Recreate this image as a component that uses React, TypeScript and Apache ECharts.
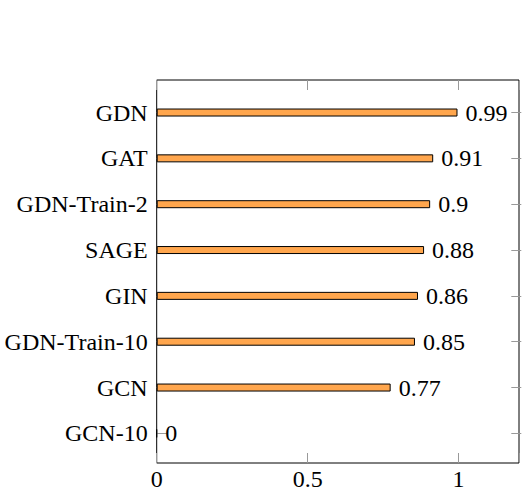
import React, { useEffect, useRef } from "react";
import * as echarts from "echarts";

const categories = ["GCN-10", "GCN", "GDN-Train-10", "GIN", "SAGE", "GDN-Train-2", "GAT", "GDN"];
const values = [0, 0.77, 0.85, 0.86, 0.88, 0.9, 0.91, 0.99];
const xTicks = [0, 0.5, 1];

const FONT = "Liberation Serif";

export default function App() {
  const ref = useRef<HTMLDivElement>(null);
  useEffect(() => {
    if (!ref.current) return;
    const chart = echarts.init(ref.current, undefined, { renderer: "svg" });
    const L = 156.7;
    const W = 364.6;
    chart.setOption({
      animation: false,
      backgroundColor: "#fff",
      grid: [
        { left: L, top: 80, width: W, height: 385, show: true, borderColor: "#000", borderWidth: 1, backgroundColor: "transparent" },
        { left: L, top: 89.6, width: W, height: 366.7 },
      ],
      xAxis: [
        {
          gridIndex: 0, type: "value", min: 0, max: 1.2, interval: 0.5, position: "bottom",
          axisLine: { show: false }, splitLine: { show: false },
          axisTick: { show: true, inside: true, length: 10, lineStyle: { color: "#999" } },
          axisLabel: {
            margin: 4, fontFamily: FONT, fontSize: 24, color: "#000",
            formatter: (v: number) => (xTicks.indexOf(v) >= 0 ? String(v) : ""),
          },
        },
        {
          gridIndex: 0, type: "value", min: 0, max: 1.2, interval: 0.5, position: "top",
          axisLine: { show: false }, splitLine: { show: false },
          axisTick: { show: true, inside: true, length: 10, lineStyle: { color: "#999" } },
          axisLabel: { show: false },
        },
        {
          gridIndex: 1, type: "value", min: 0, max: 1.2, show: false,
        },
      ],
      yAxis: [
        { gridIndex: 0, type: "value", show: false },
        {
          gridIndex: 1, type: "category", data: categories, position: "left",
          axisLine: { show: false },
          axisTick: { show: true, inside: true, length: 10, alignWithLabel: true, lineStyle: { color: "#999" } },
          axisLabel: { margin: 9, fontFamily: FONT, fontSize: 24, color: "#000" },
        },
        {
          gridIndex: 1, type: "category", data: categories, position: "right",
          axisLine: { show: false },
          axisTick: { show: true, inside: true, length: 10, alignWithLabel: true, lineStyle: { color: "#999" } },
          axisLabel: { show: false },
        },
      ],
      series: [
        {
          type: "bar",
          xAxisIndex: 2,
          yAxisIndex: 1,
          data: values,
          barWidth: 8,
          itemStyle: { color: "#FFA64D", borderColor: "#000", borderWidth: 1 },
          label: {
            show: true, position: "right", distance: 8,
            fontFamily: FONT, fontSize: 24, color: "#000",
            formatter: (p: any) => String(p.value),
          },
        },
      ],
    });
    return () => chart.dispose();
  }, []);
  return <div ref={ref} style={{ position: "fixed", left: 0, top: 0, width: 522, height: 491 }} />;
}
